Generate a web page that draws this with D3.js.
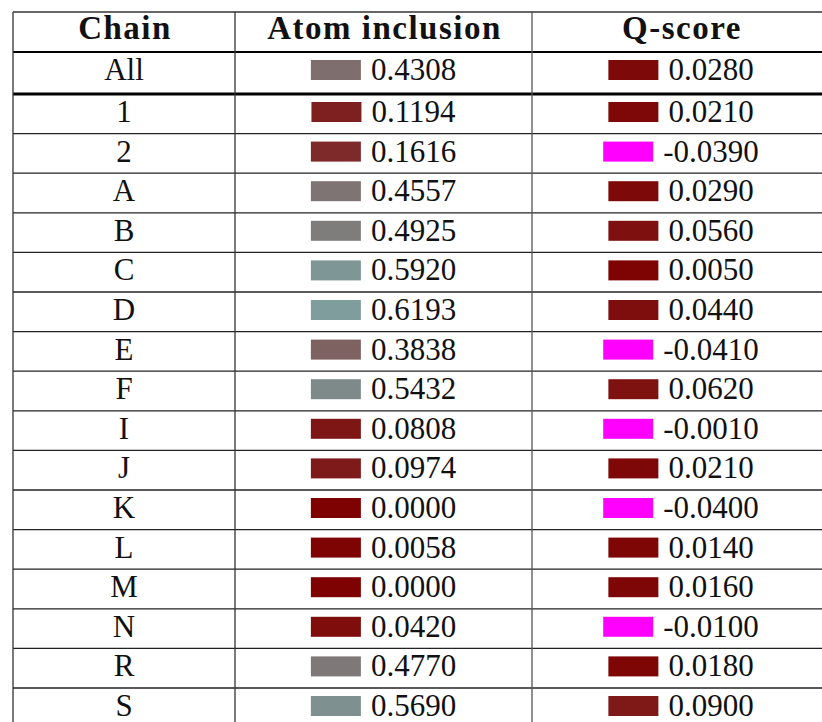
<!DOCTYPE html>
<meta charset="utf-8">
<style>
body { margin: 0; background: #fff; }
text { font-family: "Liberation Serif", "DejaVu Serif", serif; fill: #111; }
</style>
<body>
<script src="https://cdn.jsdelivr.net/npm/d3@7"></script>
<script>

let headers = ['Chain', 'Atom inclusion', 'Q-score'];
let chains = ['All', '1', '2', 'A', 'B', 'C', 'D', 'E', 'F', 'I', 'J', 'K', 'L', 'M', 'N', 'R', 'S'];
let atomInclusion = [0.4308, 0.1194, 0.1616, 0.4557, 0.4925, 0.5920, 0.6193, 0.3838, 0.5432, 0.0808, 0.0974, 0.0000, 0.0058, 0.0000, 0.0420, 0.4770, 0.5690];
let qScore = [0.0280, 0.0210, -0.0390, 0.0290, 0.0560, 0.0050, 0.0440, -0.0410, 0.0620, -0.0010, 0.0210, -0.0400, 0.0140, 0.0160, -0.0100, 0.0180, 0.0900];

let width = 822;
let height = 722;
let colEdges = [13, 235, 532, 830];
let tableTop = 12, headH = 40, allH = 42, rowH = 39.6;
let swW = 50, swH = 20, gap = 10;
let fontSize = 31;

// red -> grey -> teal, negative values flagged in magenta
let color = d3.scaleLinear()
	.domain([0, 1])
	.range(['rgb(126,2,2)', 'rgb(126,252,250)'])
	.clamp(true);
let fill = v => v < 0 ? '#ff00ff' : color(v);

let svg = d3.select('body').append('svg')
	.attr('width', width)
	.attr('height', height);

let bodyTop = tableTop + headH + allH;
let y = d3.scaleBand()
	.domain(chains.slice(1))
	.range([bodyTop, bodyTop + rowH * (chains.length - 1)]);
let rowTop = (c, i) => i === 0 ? tableTop + headH : y(c);
let rowBottom = (c, i) => i === 0 ? bodyTop : y(c) + y.bandwidth();
let colMid = j => (colEdges[j] + colEdges[j + 1]) / 2;

let rows = chains.map((c, i) => ({chain: c, atom: atomInclusion[i], q: qScore[i], i: i}));

// grid lines
let grid = svg.append('g');
grid.selectAll('.hline')
	.data(rows)
	.enter().append('line')
	.attr('x1', colEdges[0]).attr('x2', colEdges[3])
	.attr('y1', d => rowBottom(d.chain, d.i)).attr('y2', d => rowBottom(d.chain, d.i))
	.attr('stroke', d => d.i === 0 ? '#000' : '#222')
	.attr('stroke-width', d => d.i === 0 ? 3 : 1.3);
grid.append('line')
	.attr('x1', colEdges[0]).attr('x2', colEdges[3])
	.attr('y1', tableTop).attr('y2', tableTop)
	.attr('stroke', '#333').attr('stroke-width', 1.3);
grid.append('line')
	.attr('x1', colEdges[0]).attr('x2', colEdges[3])
	.attr('y1', tableTop + headH).attr('y2', tableTop + headH)
	.attr('stroke', '#000').attr('stroke-width', 2);
grid.selectAll('.vline')
	.data(colEdges)
	.enter().append('line')
	.attr('x1', d => d).attr('x2', d => d)
	.attr('y1', tableTop).attr('y2', height)
	.attr('stroke', (d, i) => i === 2 ? '#555' : '#333')
	.attr('stroke-width', 1.3);

// header
svg.selectAll('.head')
	.data(headers)
	.enter().append('text')
	.attr('x', (d, i) => colMid(i) + 1)
	.attr('y', tableTop + 27)
	.attr('text-anchor', 'middle')
	.attr('font-weight', 'bold')
	.attr('font-size', 33)
	.attr('letter-spacing', 1.5)
	.text(d => d);

// chain names
svg.selectAll('.chain')
	.data(rows)
	.enter().append('text')
	.attr('x', colMid(0))
	.attr('y', d => rowTop(d.chain, d.i) + 28)
	.attr('text-anchor', 'middle')
	.attr('font-size', fontSize)
	.text(d => d.chain);

// swatch + value cells
let cell = function(key, col) {
	let g = svg.selectAll('.c' + col)
		.data(rows)
		.enter().append('g');
	g.append('text')
		.attr('y', d => rowTop(d.chain, d.i) + 28)
		.attr('font-size', fontSize)
		.text(d => d[key].toFixed(4));
	g.each(function(d) {
		let sel = d3.select(this);
		let tw = sel.select('text').node().getComputedTextLength();
		let x0 = colMid(col) - (swW + gap + tw) / 2;
		sel.insert('rect', 'text')
			.attr('x', x0)
			.attr('y', rowTop(d.chain, d.i) + 28 - swH)
			.attr('width', swW)
			.attr('height', swH)
			.attr('fill', fill(d[key]));
		sel.select('text').attr('x', x0 + swW + gap);
	});
};
cell('atom', 1);
cell('q', 2);

</script>
</body>
